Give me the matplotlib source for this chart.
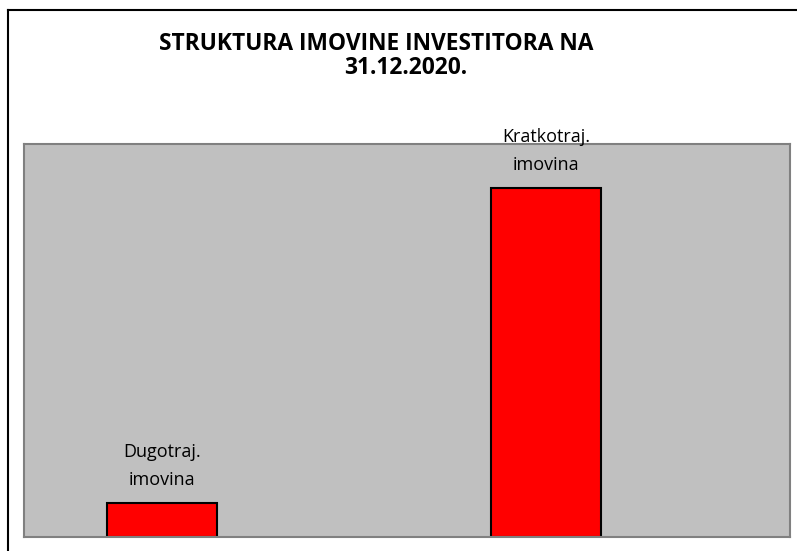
import matplotlib.pyplot as plt
from matplotlib.lines import Line2D

categories = ["Dugotraj.\nimovina", "Kratkotraj.\nimovina"]
values = [8.9, 91.1]
title_lines = ["STRUKTURA IMOVINE INVESTITORA NA", "31.12.2020."]

plt.rcParams["font.family"] = ["Open Sans", "DejaVu Sans"]

fig = plt.figure(figsize=(7.97, 5.51), dpi=100)
W, H = 797, 551

# outer chart frame (only top and left edges visible in the crop)
fig.add_artist(Line2D([8 / W, 8 / W], [0, 1 - 10 / H], color="black", lw=1.5, transform=fig.transFigure))
fig.add_artist(Line2D([8 / W, 1], [1 - 10 / H, 1 - 10 / H], color="black", lw=1.5, transform=fig.transFigure))

ax = fig.add_axes([24 / W, 1 - 537 / H, (790 - 24) / W, (537 - 144) / H])
ax.set_facecolor("#c0c0c0")
for s in ax.spines.values():
    s.set_color("#808080")
    s.set_linewidth(1.5)

x = list(range(len(values)))
bars = ax.bar(x, values, width=0.286, color="#ff0000", edgecolor="black", linewidth=1.5)
for xi, v, lab in zip(x, values, categories):
    ax.annotate(lab, xy=(xi, v), xytext=(0, 10), textcoords="offset points",
                ha="center", va="bottom", fontsize=13, linespacing=1.75,
                annotation_clip=False)

ax.set_xlim(-0.359, 1.635)
ax.set_ylim(0, 102.6)
ax.set_xticks([])
ax.set_yticks([])

fig.text(376 / W, 1 - 44 / H, title_lines[0], ha="center", va="center",
         fontsize=16.4, fontweight="bold")
fig.text(406 / W, 1 - 68 / H, title_lines[1], ha="center", va="center",
         fontsize=16.4, fontweight="bold")

fig.savefig("out.png", dpi=100)
